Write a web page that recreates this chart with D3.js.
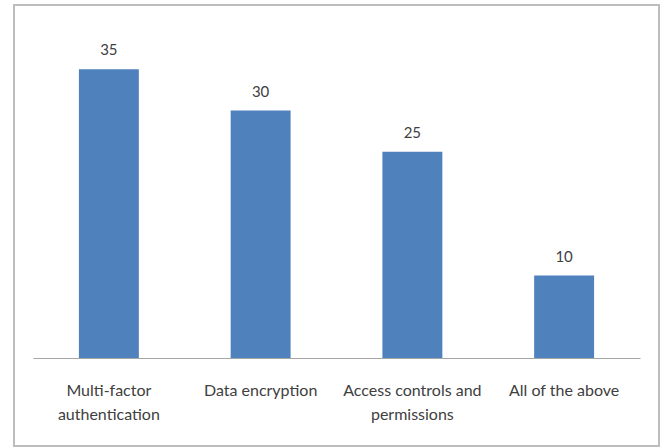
<!DOCTYPE html>
<html>
<head>
<meta charset="utf-8">
<script src="https://cdn.jsdelivr.net/npm/d3@7"></script>
<style>
  html, body { margin: 0; padding: 0; background: #ffffff; }
  svg { display: block; }
  text { font-family: Lato, "Open Sans", sans-serif; fill: #404040; }
</style>
</head>
<body>
<svg id="chart" width="664" height="448"></svg>
<script>
// Survey answers and their counts
const categories = ["Multi-factor authentication", "Data encryption", "Access controls and permissions", "All of the above"];
const values = [35, 30, 25, 10];

const svg = d3.select("#chart");

// Chart frame
svg.append("rect")
  .attr("x", 14).attr("y", 5)
  .attr("width", 645).attr("height", 441)
  .attr("fill", "#ffffff")
  .attr("stroke", "#bdbdbd")
  .attr("stroke-width", 2);

const plot = { left: 33, right: 640, top: 28, bottom: 358 };

const x = d3.scaleBand()
  .domain(categories)
  .range([plot.left, plot.right])
  .paddingInner(0.605)
  .paddingOuter(0.3025);

const y = d3.scaleLinear()
  .domain([0, 40])
  .range([plot.bottom, plot.top]);

const data = categories.map((c, i) => ({ cat: c, val: values[i] }));

// Bars
svg.append("g").selectAll("rect")
  .data(data)
  .join("rect")
  .attr("x", d => x(d.cat))
  .attr("y", d => y(d.val))
  .attr("width", x.bandwidth())
  .attr("height", d => y(0) - y(d.val))
  .attr("fill", "#4f81bd");

// Value labels above bars
svg.append("g").selectAll("text")
  .data(data)
  .join("text")
  .attr("x", d => x(d.cat) + x.bandwidth() / 2)
  .attr("y", d => y(d.val) - 14)
  .attr("text-anchor", "middle")
  .attr("font-size", 15)
  .text(d => d.val);

// Category axis (baseline only, no ticks)
const xAxis = svg.append("g")
  .attr("transform", `translate(0,${plot.bottom})`)
  .call(d3.axisBottom(x).tickSize(0).tickPadding(0).tickFormat(""));
xAxis.select(".domain").attr("stroke", "#a6a6a6").attr("stroke-width", 1.2);

// Wrapped category labels
const labelG = svg.append("g");
const maxW = 150;
categories.forEach(c => {
  const cx = x(c) + x.bandwidth() / 2;
  const t = labelG.append("text")
    .attr("x", cx)
    .attr("y", 396)
    .attr("text-anchor", "middle")
    .attr("font-size", 16);
  const words = c.split(" ");
  let line = [];
  let tspan = t.append("tspan").attr("x", cx).attr("dy", 0);
  words.forEach(w => {
    line.push(w);
    tspan.text(line.join(" "));
    if (tspan.node().getComputedTextLength() > maxW && line.length > 1) {
      line.pop();
      tspan.text(line.join(" "));
      line = [w];
      tspan = t.append("tspan")
        .attr("x", cx)
        .attr("dy", 24)
        .text(w);
    }
  });
});
</script>
</body>
</html>
